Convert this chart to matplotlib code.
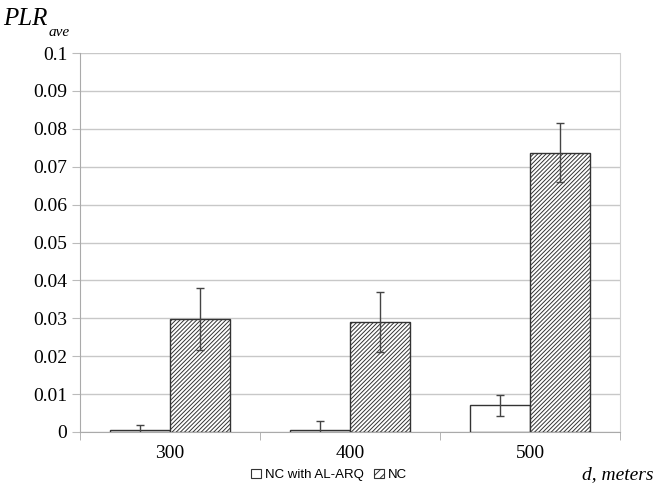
import matplotlib.pyplot as plt
import numpy as np
from matplotlib.patches import Patch

# Data
distances = ["300", "400", "500"]
plr_al_arq = [0.0005, 0.0004, 0.0070]
err_al_arq = [0.0013, 0.0026, 0.0027]
plr_nc = [0.0299, 0.0290, 0.0737]
err_nc = [0.0082, 0.0080, 0.0078]
y_ticks = [0, 0.01, 0.02, 0.03, 0.04, 0.05, 0.06, 0.07, 0.08, 0.09, 0.1]
y_tick_labels = ["0", "0.01", "0.02", "0.03", "0.04", "0.05", "0.06",
                 "0.07", "0.08", "0.09", "0.1"]

serif = "Liberation Serif"
sans = "Liberation Sans"
plt.rcParams["hatch.linewidth"] = 0.7
plt.rcParams["hatch.color"] = "#333333"

fig = plt.figure(figsize=(6.57, 4.88), dpi=100)
ax = fig.add_axes([80 / 657, 1 - 432 / 488, 540 / 657, 379 / 488])

x = np.arange(len(distances))
w = 1 / 3
ax.bar(x - w / 2, plr_al_arq, w, color="white", edgecolor="#333333",
       linewidth=1.0, zorder=3)
ax.bar(x + w / 2, plr_nc, w, color="white", edgecolor="#333333",
       linewidth=1.0, hatch="////////", zorder=3)
ax.errorbar(x - w / 2, plr_al_arq, yerr=err_al_arq, fmt="none",
            ecolor="#444444", elinewidth=1.0, capsize=3, capthick=1.0, zorder=4)
ax.errorbar(x + w / 2, plr_nc, yerr=err_nc, fmt="none",
            ecolor="#444444", elinewidth=1.0, capsize=3, capthick=1.0, zorder=4)

ax.set_xlim(-0.5, 2.5)
ax.set_ylim(0, 0.1)
ax.set_yticks(y_ticks)
ax.set_yticklabels(y_tick_labels, fontfamily=serif, fontsize=14)
ax.set_xticks(x)
ax.set_xticklabels(distances, fontfamily=serif, fontsize=14)
ax.tick_params(axis="x", length=0, pad=9)
ax.set_xticks([-0.5, 0.5, 1.5, 2.5], minor=True)
ax.tick_params(axis="x", which="minor", length=6, color="#aaaaaa", direction="out")
ax.tick_params(axis="y", length=6, color="#bbbbbb", pad=3)

ax.grid(axis="y", color="#c8c8c8", linewidth=1.0, zorder=0)
for side in ["left", "bottom"]:
    ax.spines[side].set_color("#aaaaaa")
ax.spines["right"].set_color("#d0d0d0")
ax.spines["top"].set_visible(False)

fig.text(3 / 657, 1 - 25 / 488, "PLR", fontfamily=serif, style="italic",
         fontsize=18, ha="left", va="baseline")
fig.text(49 / 657, 1 - 36 / 488, "ave", fontfamily=serif, style="italic",
         fontsize=11, ha="left", va="baseline")
fig.text(654 / 657, 1 - 479 / 488, "d, meters", fontfamily=serif,
         style="italic", fontsize=14, ha="right", va="baseline")

handles = [
    Patch(facecolor="white", edgecolor="#333333", linewidth=0.8),
    Patch(facecolor="white", edgecolor="#333333", linewidth=0.8, hatch="////"),
]
leg = fig.legend(handles, ["NC with AL-ARQ", "NC"], loc="center",
                 bbox_to_anchor=(329 / 657, 1 - 475 / 488), ncol=2,
                 frameon=False, prop={"family": sans, "size": 9.5},
                 handletextpad=0.3, columnspacing=0.8, handlelength=0.75,
                 handleheight=0.75)

fig.savefig("out.png", dpi=100)
